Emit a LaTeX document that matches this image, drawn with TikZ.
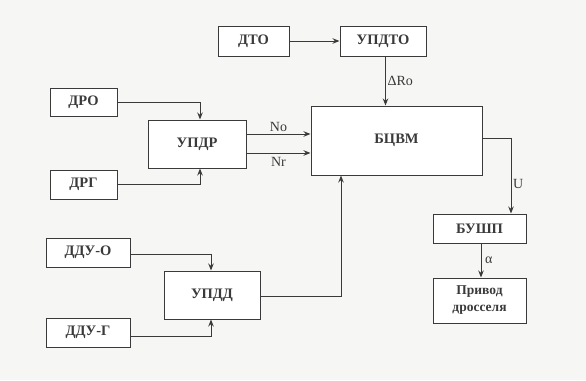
\documentclass[tikz,border=0pt]{standalone}
\usepackage{fontspec}
\setmainfont{Liberation Serif}
\usetikzlibrary{arrows.meta,calc}
\definecolor{ink}{HTML}{3A3A3A}
\definecolor{paper}{HTML}{F6F6F4}
\begin{document}
\begin{tikzpicture}[x=1pt,y=-1pt,
  blk/.style={draw=ink, line width=1pt, fill=white, text=ink, font=\bfseries\fontsize{14.5}{15.5}\selectfont, align=center, inner sep=0pt},
  arr/.style={draw=ink, line width=1pt, -{Stealth[length=7pt,width=5.5pt]}},
  lbl/.style={text=ink, font=\fontsize{14}{15}\selectfont, inner sep=1.5pt}]
\fill[paper] (0,0) rectangle (586,380);
\useasboundingbox (0,0) rectangle (586,380);

\node[blk, minimum width=71pt, minimum height=30pt] (dto) at (253.5,41) {ДТО};
\node[blk, minimum width=86pt, minimum height=30pt] (updto) at (383,41) {УПДТО};
\node[blk, minimum width=67pt, minimum height=28pt] (dro) at (83.5,102) {ДРО};
\node[blk, minimum width=67pt, minimum height=29pt] (drg) at (83.5,184.5) {ДРГ};
\node[blk, minimum width=98pt, minimum height=48pt] (updr) at (197,144) {УПДР};
\node[blk, minimum width=171pt, minimum height=69pt] (bcvm) at (396.5,140.5) {БЦВМ};
\node[blk, minimum width=93pt, minimum height=29pt] (bushp) at (479.5,228.5) {БУШП};
\node[blk, minimum width=93pt, minimum height=45pt, font=\bfseries\fontsize{13.5}{17}\selectfont] (priv) at (479.5,300.5) {Привод\\дросселя};
\node[blk, minimum width=84pt, minimum height=29pt] (dduo) at (88,252.5) {ДДУ-О};
\node[blk, minimum width=84pt, minimum height=29pt] (ddug) at (88,332.5) {ДДУ-Г};
\node[blk, minimum width=96pt, minimum height=48pt] (updd) at (212,295) {УПДД};

\draw[arr] (dto.east) -- (updto.west);
\draw[arr] ([xshift=2.5pt]updto.south) -- ([xshift=2.5pt]updto.south |- bcvm.north)
  node[lbl, midway, right] {ΔRo};
\draw[arr] (dro.east) -| ([xshift=3pt]updr.north);
\draw[arr] (drg.east) -| ([xshift=3pt]updr.south);
\draw[arr] ([yshift=10pt]updr.east) -- ([yshift=10pt]updr.east -| bcvm.west)
  node[lbl, midway, above] {No};
\draw[arr] ([yshift=-9pt]updr.east) -- ([yshift=-9pt]updr.east -| bcvm.west)
  node[lbl, midway, below, yshift=-2pt] {Nr};
\draw[arr] ([yshift=2pt]bcvm.east) -| ([xshift=31.5pt]bushp.north)
  node[lbl, pos=0.8, right] {U};
\draw[arr] ([xshift=1.5pt]bushp.south) -- ([xshift=1.5pt]priv.north)
  node[lbl, midway, right, xshift=2pt] {α};
\draw[arr] (dduo.east) ++(0,-1.5pt) -| ([xshift=-1pt]updd.north);
\draw[arr] ([yshift=-4pt]ddug.east) -| ([xshift=-1pt]updd.south);
\draw[arr] ([yshift=-1.5pt]updd.east) -| ([xshift=-55.5pt]bcvm.south);
\end{tikzpicture}
\end{document}
